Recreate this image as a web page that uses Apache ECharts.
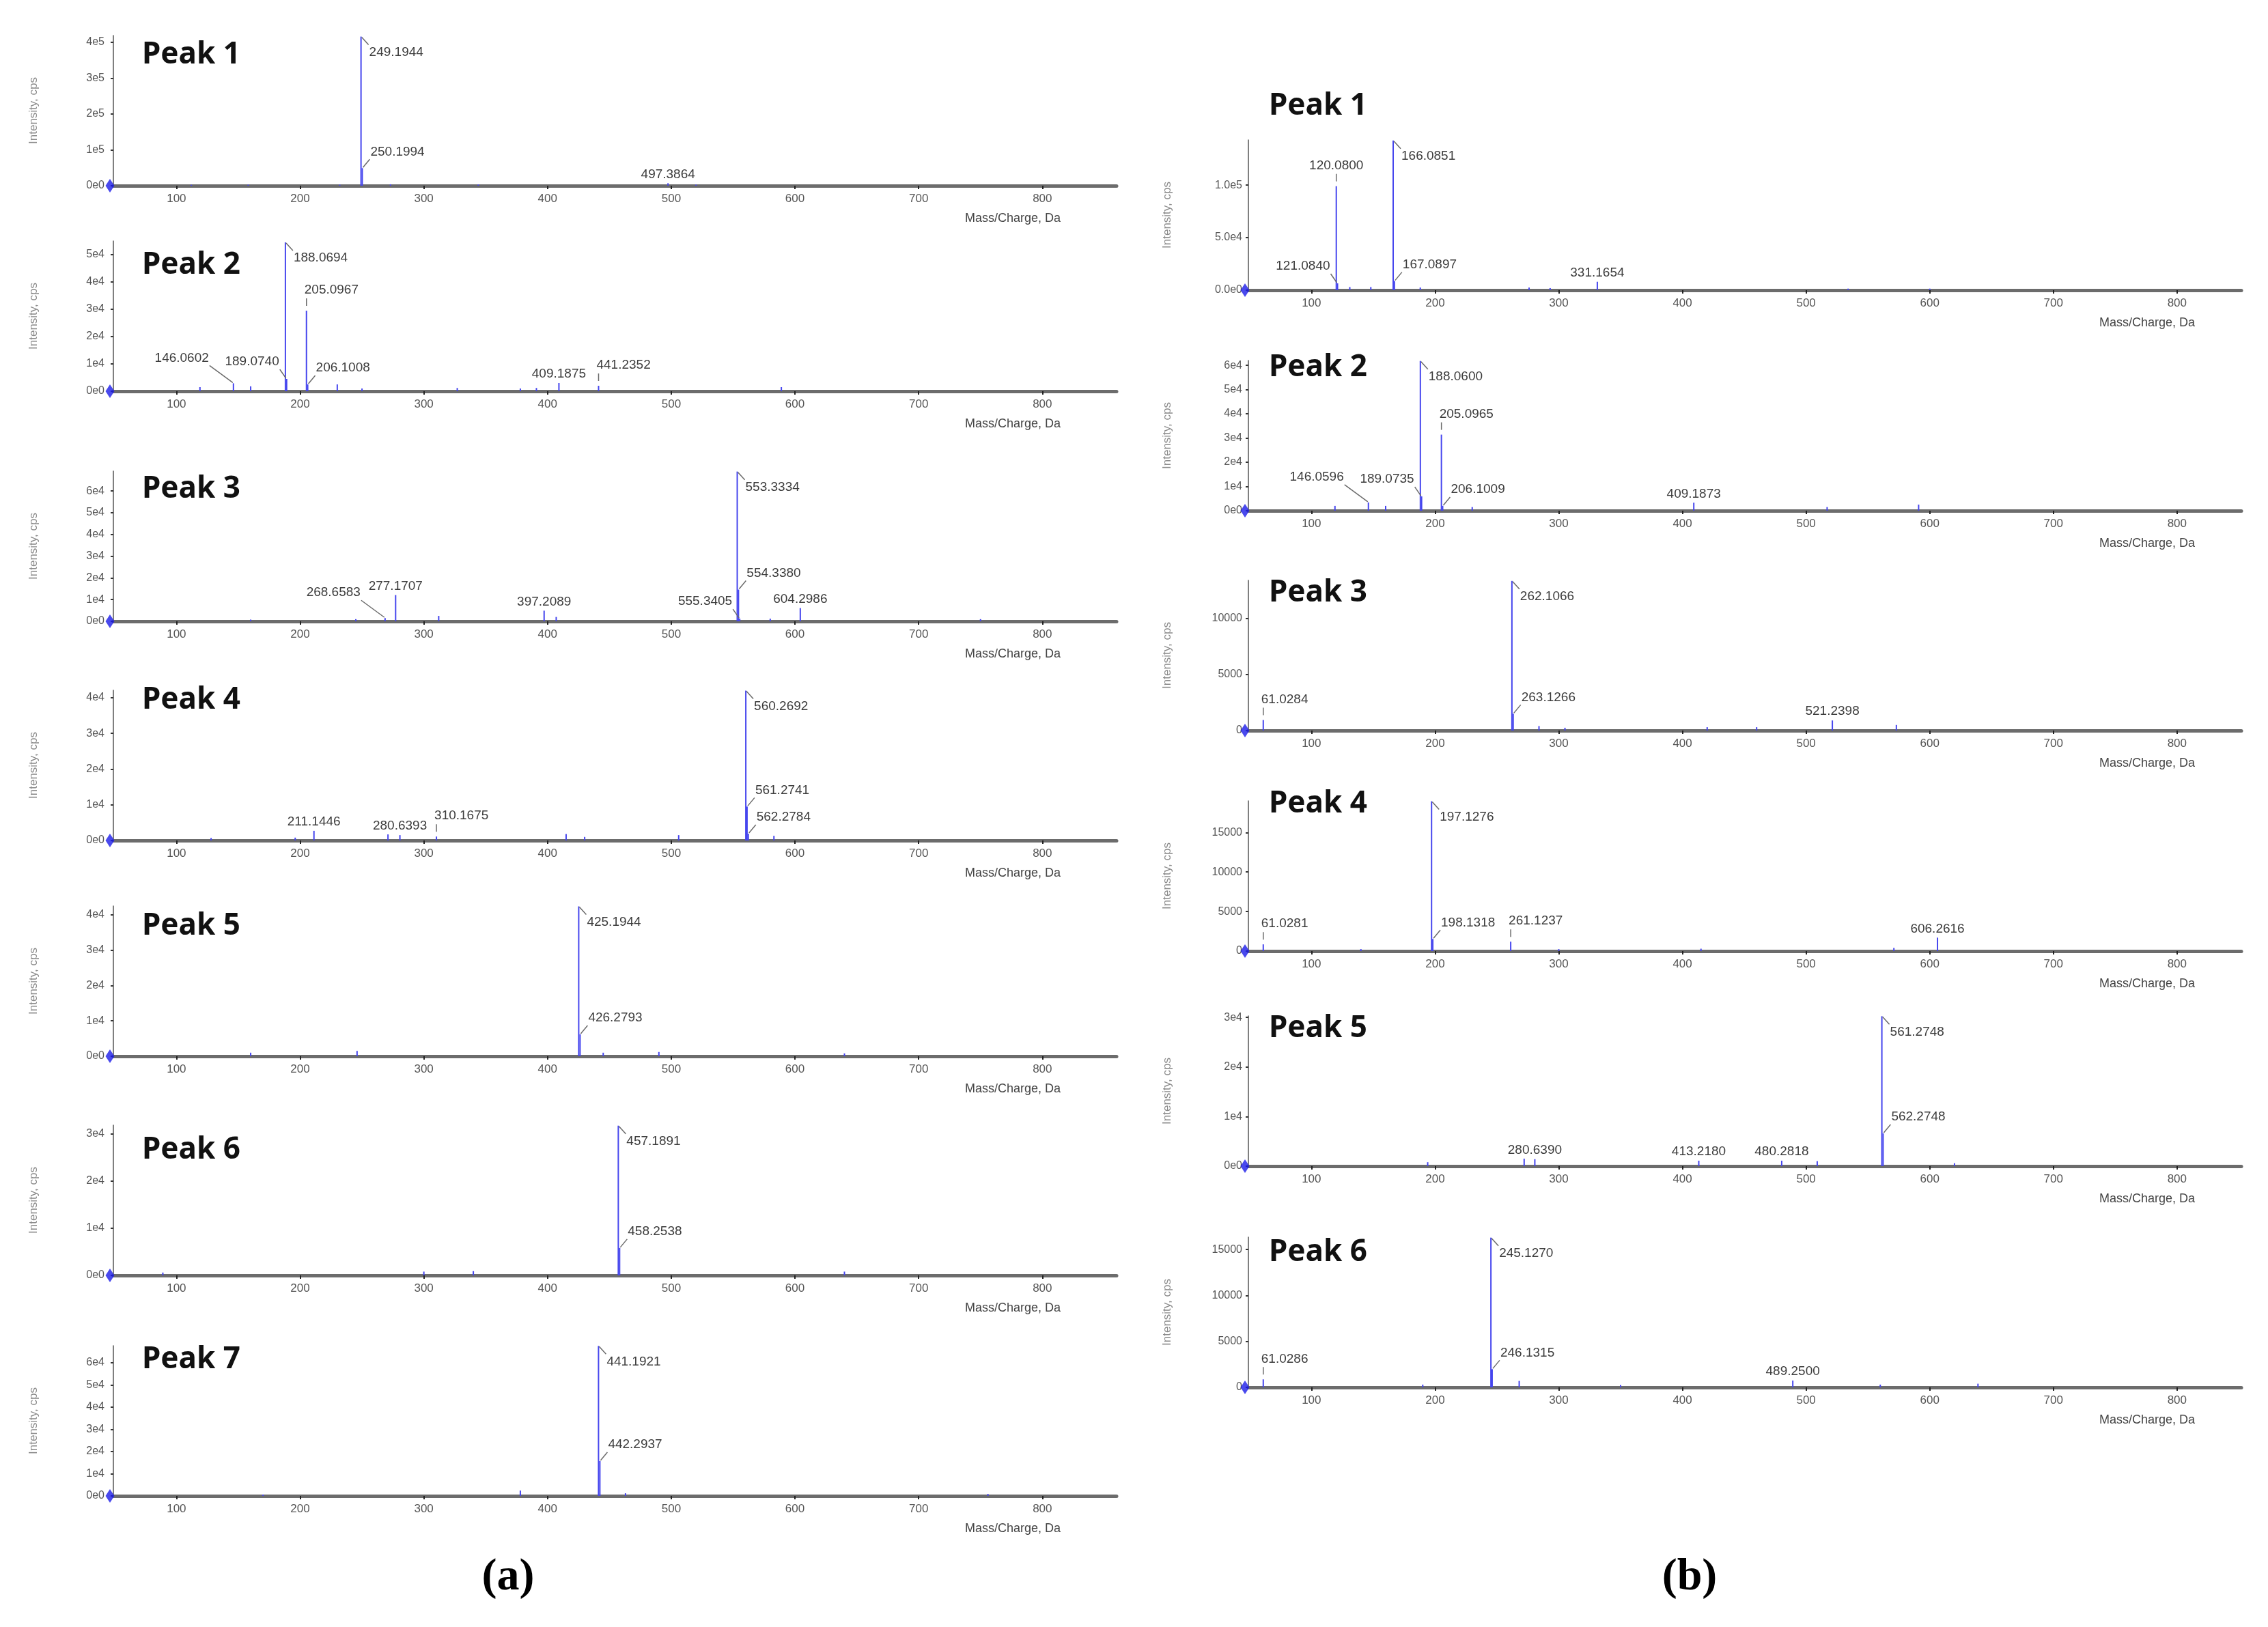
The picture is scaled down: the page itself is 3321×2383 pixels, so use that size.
<!DOCTYPE html>
<html><head><meta charset="utf-8">
<script src="https://cdn.jsdelivr.net/npm/echarts@6/dist/echarts.min.js"></script>
<style>html,body{margin:0;padding:0;background:#fff}#c{width:3321px;height:2383px}</style>
</head><body><div id="c"></div>
<script>
// ---------------- DATA ----------------
const xTicks = [100, 200, 300, 400, 500, 600, 700, 800];
const xAxisName = 'Mass/Charge, Da';
const yAxisName = 'Intensity, cps';
const titlesA = ['Peak 1', 'Peak 2', 'Peak 3', 'Peak 4', 'Peak 5', 'Peak 6', 'Peak 7'];
const titlesB = ['Peak 1', 'Peak 2', 'Peak 3', 'Peak 4', 'Peak 5', 'Peak 6'];
const panelTags = ['(a)', '(b)'];

// (a) Peak 1
const a1_mz = [249.1944, 250.1994, 497.3864, 112, 158, 232, 273, 344, 520];
const a1_int = [416000, 49000, 7000, 2500, 3000, 3000, 4000, 3500, 3000];
const a1_labels = ['249.1944', '250.1994', '497.3864'];
const a1_yTicks = [0, 100000, 200000, 300000, 400000];
const a1_yMax = 419000;
// (a) Peak 2
const a2_mz = [188.0694, 205.0967, 146.0602, 189.0740, 206.1008, 409.1875, 441.2352, 119, 160, 230, 250, 327, 378, 391, 589];
const a2_int = [54500, 29500, 2900, 4500, 2500, 3000, 2000, 1500, 1800, 2500, 1000, 1200, 1000, 1200, 1500];
const a2_labels = ['188.0694', '205.0967', '146.0602', '189.0740', '206.1008', '409.1875', '441.2352'];
const a2_yTicks = [0, 10000, 20000, 30000, 40000, 50000];
const a2_yMax = 55000;
// (a) Peak 3
const a3_mz = [553.3334, 554.3380, 555.3405, 277.1707, 268.6583, 397.2089, 604.2986, 312, 407, 245, 580, 750, 160];
const a3_int = [69000, 14600, 1200, 12100, 1500, 4900, 6100, 2500, 2000, 1000, 1200, 1000, 800];
const a3_labels = ['553.3334', '554.3380', '555.3405', '277.1707', '268.6583', '397.2089', '604.2986'];
const a3_yTicks = [0, 10000, 20000, 30000, 40000, 50000, 60000];
const a3_yMax = 69200;
// (a) Peak 4
const a4_mz = [560.2692, 561.2741, 562.2784, 211.1446, 280.6393, 310.1675, 271, 415, 430, 506, 583, 196, 128];
const a4_int = [42000, 9500, 1900, 2700, 1500, 1100, 1700, 1800, 1000, 1500, 1300, 800, 700];
const a4_labels = ['560.2692', '561.2741', '562.2784', '211.1446', '280.6393', '310.1675'];
const a4_yTicks = [0, 10000, 20000, 30000, 40000];
const a4_yMax = 42100;
// (a) Peak 5
const a5_mz = [425.1944, 426.2793, 160, 246, 445, 490, 640];
const a5_int = [42400, 6200, 1000, 1500, 1000, 1200, 800];
const a5_labels = ['425.1944', '426.2793'];
const a5_yTicks = [0, 10000, 20000, 30000, 40000];
const a5_yMax = 42500;
// (a) Peak 6
const a6_mz = [457.1891, 458.2538, 300, 340, 640, 89];
const a6_int = [31700, 5800, 800, 900, 800, 600];
const a6_labels = ['457.1891', '458.2538'];
const a6_yTicks = [0, 10000, 20000, 30000];
const a6_yMax = 31800;
// (a) Peak 7
const a7_mz = [441.1921, 442.2937, 378, 463, 756, 170];
const a7_int = [67600, 15700, 2400, 1200, 900, 600];
const a7_labels = ['441.1921', '442.2937'];
const a7_yTicks = [0, 10000, 20000, 30000, 40000, 50000, 60000];
const a7_yMax = 67700;

// (b) Peak 1
const b1_mz = [166.0851, 120.0800, 121.0840, 167.0897, 331.1654, 131, 148, 188, 276, 293, 534, 600];
const b1_int = [142500, 99000, 6500, 8700, 8000, 3000, 3000, 2500, 2500, 2000, 1500, 1500];
const b1_labels = ['166.0851', '120.0800', '121.0840', '167.0897', '331.1654'];
const b1_yTicks = [0, 50000, 100000];
const b1_yMax = 143000;
// (b) Peak 2
const b2_mz = [188.0600, 205.0965, 146.0596, 189.0735, 206.1009, 409.1873, 119, 160, 230, 517, 591];
const b2_int = [61800, 31400, 3400, 5900, 2000, 3300, 2000, 2000, 1500, 1500, 2500];
const b2_labels = ['188.0600', '205.0965', '146.0596', '189.0735', '206.1009', '409.1873'];
const b2_yTicks = [0, 10000, 20000, 30000, 40000, 50000, 60000];
const b2_yMax = 62000;
// (b) Peak 3
const b3_mz = [262.1066, 263.1266, 61.0284, 521.2398, 284, 573, 305, 420, 460];
const b3_int = [13350, 1500, 940, 900, 400, 500, 250, 300, 300];
const b3_labels = ['262.1066', '263.1266', '61.0284', '521.2398'];
const b3_yTicks = [0, 5000, 10000];
const b3_yMax = 13400;
// (b) Peak 4
const b4_mz = [197.1276, 198.1318, 261.1237, 61.0281, 606.2616, 415, 571, 300, 140];
const b4_int = [18950, 1530, 1190, 850, 1700, 300, 400, 250, 250];
const b4_labels = ['197.1276', '198.1318', '261.1237', '61.0281', '606.2616'];
const b4_yTicks = [0, 5000, 10000, 15000];
const b4_yMax = 19000;
// (b) Peak 5
const b5_mz = [561.2748, 562.2748, 280.6390, 413.2180, 480.2818, 272, 509, 194, 620];
const b5_int = [30250, 6600, 1400, 1100, 1100, 1500, 1000, 800, 600];
const b5_labels = ['561.2748', '562.2748', '280.6390', '413.2180', '480.2818'];
const b5_yTicks = [0, 10000, 20000, 30000];
const b5_yMax = 30300;
// (b) Peak 6
const b6_mz = [245.1270, 246.1315, 61.0286, 489.2500, 268, 639, 190, 350, 560];
const b6_int = [16300, 1980, 870, 740, 700, 400, 300, 250, 300];
const b6_labels = ['245.1270', '246.1315', '61.0286', '489.2500'];
const b6_yTicks = [0, 5000, 10000, 15000];
const b6_yMax = 16350;

// ---------------- LABEL PLACEMENT (style) ----------------
const a1_lpos = ['dr', 'ur', 'c'];
const a2_lpos = ['dr', 'tl', 'ul2', 'ul', 'ur', 'c', 'tl'];
const a3_lpos = ['dr', 'ur', 'ul', 'c', 'ul2', 'c', 'c'];
const a4_lpos = ['dr', 'ur', 'ur', 'c', 'c', 'tl'];
const a5_lpos = ['dr', 'ur'];
const a6_lpos = ['dr', 'ur'];
const a7_lpos = ['dr', 'ur'];
const b1_lpos = ['dr', 'tc', 'ul', 'ur', 'c'];
const b2_lpos = ['dr', 'tl', 'ul2', 'ul', 'ur', 'c'];
const b3_lpos = ['dr', 'ur', 'tl', 'c'];
const b4_lpos = ['dr', 'ur', 'tl', 'tl', 'c'];
const b5_lpos = ['dr', 'ur', 'c', 'c', 'c'];
const b6_lpos = ['dr', 'ur', 'tl', 'c'];

const LSTYLE = {
  dr: { dx: 12, dy: 23, align: 'left', line: 'diag' },
  ur: { dx: 12, dy: -24, align: 'left', line: 'diag' },
  ul: { dx: -11, dy: -25, align: 'right', line: 'diag' },
  ul2: { dx: -36, dy: -37, align: 'right', line: 'diag' },
  c: { dx: 0, dy: -13, align: 'center', line: 'none' },
  tl: { dx: -3, dy: -30, align: 'left', line: 'tick' },
  tc: { dx: 0, dy: -30, align: 'center', line: 'tick' }
};

// ---------------- LAYOUT ----------------
const FONT = "'Liberation Sans', Arial, sans-serif";
const PEAK_COLOR = '#4646ee';
const PLOT_H = 220;
const X_MIN = 49;
const colA = { left: 166, width: 1469, xMax: 860, baselines: [272, 573, 910, 1231, 1547, 1868, 2191],
  titleX: 208, titleY: [80, 388, 716, 1025, 1356, 1684, 1991], yNameX: 49, nameRight: 82, labMargin: 13 };
const colB = { left: 1828, width: 1454, xMax: 852, baselines: [425, 748, 1070, 1393, 1708, 2032],
  titleX: 1858, titleY: [155, 538, 868, 1177, 1506, 1834], yNameX: 1709, nameRight: 68, labMargin: 9 };

const panels = [
  { col: colA, row: 0, title: titlesA[0], mz: a1_mz, int: a1_int, labels: a1_labels, lpos: a1_lpos, yTicks: a1_yTicks, yMax: a1_yMax, fmt: 'e' },
  { col: colA, row: 1, title: titlesA[1], mz: a2_mz, int: a2_int, labels: a2_labels, lpos: a2_lpos, yTicks: a2_yTicks, yMax: a2_yMax, fmt: 'e' },
  { col: colA, row: 2, title: titlesA[2], mz: a3_mz, int: a3_int, labels: a3_labels, lpos: a3_lpos, yTicks: a3_yTicks, yMax: a3_yMax, fmt: 'e' },
  { col: colA, row: 3, title: titlesA[3], mz: a4_mz, int: a4_int, labels: a4_labels, lpos: a4_lpos, yTicks: a4_yTicks, yMax: a4_yMax, fmt: 'e' },
  { col: colA, row: 4, title: titlesA[4], mz: a5_mz, int: a5_int, labels: a5_labels, lpos: a5_lpos, yTicks: a5_yTicks, yMax: a5_yMax, fmt: 'e' },
  { col: colA, row: 5, title: titlesA[5], mz: a6_mz, int: a6_int, labels: a6_labels, lpos: a6_lpos, yTicks: a6_yTicks, yMax: a6_yMax, fmt: 'e' },
  { col: colA, row: 6, title: titlesA[6], mz: a7_mz, int: a7_int, labels: a7_labels, lpos: a7_lpos, yTicks: a7_yTicks, yMax: a7_yMax, fmt: 'e' },
  { col: colB, row: 0, title: titlesB[0], mz: b1_mz, int: b1_int, labels: b1_labels, lpos: b1_lpos, yTicks: b1_yTicks, yMax: b1_yMax, fmt: 'e1' },
  { col: colB, row: 1, title: titlesB[1], mz: b2_mz, int: b2_int, labels: b2_labels, lpos: b2_lpos, yTicks: b2_yTicks, yMax: b2_yMax, fmt: 'e' },
  { col: colB, row: 2, title: titlesB[2], mz: b3_mz, int: b3_int, labels: b3_labels, lpos: b3_lpos, yTicks: b3_yTicks, yMax: b3_yMax, fmt: 'plain' },
  { col: colB, row: 3, title: titlesB[3], mz: b4_mz, int: b4_int, labels: b4_labels, lpos: b4_lpos, yTicks: b4_yTicks, yMax: b4_yMax, fmt: 'plain' },
  { col: colB, row: 4, title: titlesB[4], mz: b5_mz, int: b5_int, labels: b5_labels, lpos: b5_lpos, yTicks: b5_yTicks, yMax: b5_yMax, fmt: 'e' },
  { col: colB, row: 5, title: titlesB[5], mz: b6_mz, int: b6_int, labels: b6_labels, lpos: b6_lpos, yTicks: b6_yTicks, yMax: b6_yMax, fmt: 'plain' }
];

function fmtY(type) {
  return function (v) {
    if (type === 'plain') return String(Math.round(v));
    if (v === 0) return type === 'e1' ? '0.0e0' : '0e0';
    const ex = Math.floor(Math.log10(v) + 1e-9);
    const m = v / Math.pow(10, ex);
    return (type === 'e1' ? m.toFixed(1) : String(Math.round(m))) + 'e' + ex;
  };
}

function stickRender(params, api) {
  const x = api.value(0), v = api.value(1);
  const a = api.coord([x, 0]), b = api.coord([x, v]);
  return { type: 'line', shape: { x1: a[0], y1: a[1], x2: b[0], y2: b[1] },
    style: { stroke: PEAK_COLOR, lineWidth: 2 } };
}

function annRender(panel) {
  return function (params, api) {
    const i = params.dataIndex;
    const p = api.coord([api.value(0), api.value(1)]);
    const st = LSTYLE[panel.lpos[i]];
    const tx = p[0] + st.dx, ty = p[1] + st.dy;
    const children = [{
      type: 'text', x: tx, y: ty,
      style: { text: panel.labels[i], fill: '#3c3c3c', font: '19px ' + FONT,
        align: st.align, verticalAlign: 'middle', textAlign: st.align, textVerticalAlign: 'middle' }
    }];
    if (st.line === 'diag') {
      const sx = p[0] + (st.dx > 0 ? 1 : -1);
      children.push({ type: 'line', shape: { x1: sx, y1: p[1] + (st.dy > 0 ? 1 : -1), x2: tx + (st.dx > 0 ? -1 : 1), y2: ty + (st.dy < 0 ? 11 : -11) },
        style: { stroke: '#6a6a6a', lineWidth: 1.5 } });
    } else if (st.line === 'tick') {
      children.push({ type: 'line', shape: { x1: p[0], y1: p[1] - 7, x2: p[0], y2: p[1] - 18 },
        style: { stroke: '#6a6a6a', lineWidth: 1.5 } });
    }
    return { type: 'group', children: children };
  };
}

const grid = [], xAxis = [], yAxis = [], series = [], graphic = [];
panels.forEach(function (pn, k) {
  const c = pn.col;
  const base = c.baselines[pn.row];
  grid.push({ left: c.left, top: base - PLOT_H, width: c.width, height: PLOT_H, containLabel: false });
  xAxis.push({
    type: 'value', gridIndex: k, min: X_MIN, max: c.xMax,
    axisLine: { show: true, onZero: false, lineStyle: { color: '#6c6c6c', width: 5 } },
    axisTick: { show: true, length: 5, lineStyle: { color: '#222', width: 2 }, customValues: xTicks },
    axisLabel: { show: true, margin: 11, color: '#555', fontSize: 17, fontFamily: FONT, customValues: xTicks },
    splitLine: { show: false }
  });
  yAxis.push({
    type: 'value', gridIndex: k, min: 0, max: pn.yMax,
    axisLine: { show: true, lineStyle: { color: '#555', width: 1.5 } },
    axisTick: { show: true, length: 4, lineStyle: { color: '#333', width: 2 }, customValues: pn.yTicks },
    axisLabel: { show: true, margin: c.labMargin, color: '#555', fontSize: 16, fontFamily: FONT,
      customValues: pn.yTicks, formatter: fmtY(pn.fmt) },
    splitLine: { show: false }
  });
  series.push({
    type: 'custom', xAxisIndex: k, yAxisIndex: k, silent: true, z: 3,
    data: pn.mz.map(function (m, i) { return [m, pn.int[i]]; }),
    encode: { x: 0, y: 1 }, renderItem: stickRender
  });
  series.push({
    type: 'custom', xAxisIndex: k, yAxisIndex: k, silent: true, z: 4,
    data: pn.labels.map(function (t, i) { return [pn.mz[i], pn.int[i]]; }),
    encode: { x: 0, y: 1 }, renderItem: annRender(pn)
  });
  series.push({
    type: 'scatter', xAxisIndex: k, yAxisIndex: k, silent: true, z: 5, clip: false,
    symbol: 'diamond', symbolSize: [13, 20], symbolOffset: [-5, 0],
    itemStyle: { color: '#1c1ce8' }, data: [[X_MIN, 0]]
  });
  graphic.push({ type: 'text', x: c.titleX, y: c.titleY[pn.row], silent: true,
    style: { text: pn.title, fill: '#111', font: 'bold 44px "Noto Sans", "Liberation Sans", sans-serif',
      align: 'left', verticalAlign: 'middle', textAlign: 'left', textVerticalAlign: 'middle' } });
  graphic.push({ type: 'text', x: c.left + c.width - c.nameRight, y: base + 48, silent: true,
    style: { text: xAxisName, fill: '#444', font: '18px ' + FONT,
      align: 'right', verticalAlign: 'middle', textAlign: 'right', textVerticalAlign: 'middle' } });
  graphic.push({ type: 'text', x: c.yNameX, y: base - PLOT_H / 2, rotation: Math.PI / 2, silent: true,
    style: { text: yAxisName, fill: '#8a8a8a', font: '17px ' + FONT,
      align: 'center', verticalAlign: 'middle', textAlign: 'center', textVerticalAlign: 'middle' } });
});
graphic.push({ type: 'text', x: 744, y: 2311, silent: true,
  style: { text: panelTags[0], fill: '#000', font: 'bold 66px "Liberation Serif", serif',
    align: 'center', verticalAlign: 'middle', textAlign: 'center', textVerticalAlign: 'middle' } });
graphic.push({ type: 'text', x: 2474, y: 2311, silent: true,
  style: { text: panelTags[1], fill: '#000', font: 'bold 66px "Liberation Serif", serif',
    align: 'center', verticalAlign: 'middle', textAlign: 'center', textVerticalAlign: 'middle' } });

const chart = echarts.init(document.getElementById('c'), null, { renderer: 'canvas' });
chart.setOption({
  backgroundColor: '#ffffff',
  animation: false,
  grid: grid, xAxis: xAxis, yAxis: yAxis, series: series, graphic: graphic
});
</script></body></html>
